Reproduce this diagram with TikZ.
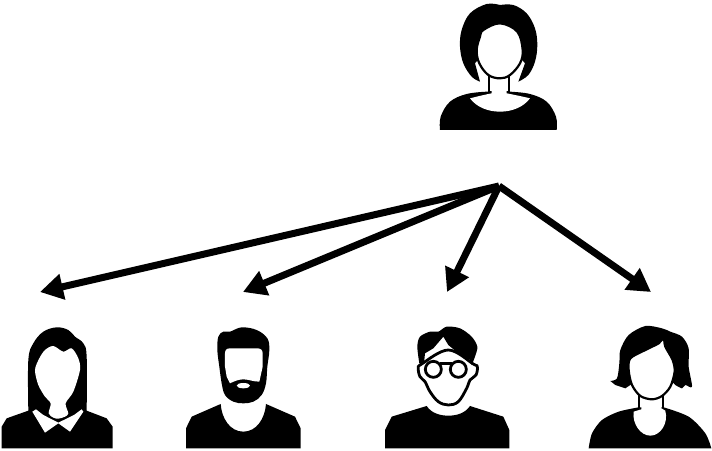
\documentclass[tikz,border=0pt]{standalone}
\usepackage{tikz}
\usetikzlibrary{arrows.meta}
\tikzset{
    dark/.style={fill=black,draw=none},
    skin/.style={fill=white,draw=none},
    face/.style={fill=white,draw=black,line width=2.2pt},
    lens/.style={fill=white,draw=black,line width=2.8pt},
    link/.style={line width=7pt,-{Triangle[length=23pt,width=25pt]}},
    icon/.style={x=0.3333pt,y=-0.3333pt}
}
\begin{document}
\begin{tikzpicture}[x=1pt,y=-1pt]
\useasboundingbox (0,0) rectangle (712,450);
% Top person
\begin{scope}[shift={(430,0)},icon]
\fill[dark] plot[smooth,tension=0.6] coordinates{(210,15)(170,12)(120,40)(95,90)(90,140)(100,190)(125,230)(150,245)} -- (135,190) -- (210,100) -- (285,190) -- (265,245) -- plot[smooth,tension=0.6] coordinates{(265,245)(295,225)(315,185)(322,135)(315,85)(290,40)(250,15)(210,15)};
\fill[dark] plot[smooth,tension=0.6] coordinates{(30,390)(32,350)(60,305)(110,282)(170,275)} -- (240,275) -- plot[smooth,tension=0.6] coordinates{(240,275)(300,282)(350,305)(378,350)(380,390)} -- cycle;
\draw[face] (176,225) -- (176,276) -- (236,276) -- (236,225);
\fill[skin] (185,225) -- (185,280) .. controls (160,285) and (140,290) .. (120,295) .. controls (140,322) and (175,335) .. (210,335) .. controls (245,335) and (280,322) .. (300,295) .. controls (280,290) and (255,285) .. (230,280) -- (230,225) -- cycle;
\draw[face] plot[smooth cycle,tension=0.6] coordinates{(160,90)(210,70)(262,95)(278,150)(270,190)(240,225)(210,235)(175,225)(148,190)(140,150)(150,110)};
\end{scope}
% Bottom left person
\begin{scope}[shift={(0,320)},icon]
\fill[dark] plot[smooth,tension=0.6] coordinates{(85,272)(85,120)(100,70)(130,35)(170,22)(205,30)(225,50)(250,70)(260,110)(260,272)} -- (320,295) -- (338,320) -- (338,385) -- (5,385) -- (5,320) -- (20,295) -- cycle;
\fill[skin] plot[smooth cycle,tension=0.5] coordinates{(118,115)(105,150)(115,195)(135,230)(152,250)(146,280)(160,293)(175,296)(195,290)(205,280)(197,250)(220,215)(240,150)(235,115)(215,85)(190,95)(160,78)(135,90)};
\fill[skin] (97,275) -- (108,268) -- (130,285) -- (175,308) -- (222,285) -- (245,268) -- (250,275) -- (210,335) -- (175,310) -- (135,338) -- cycle;
\end{scope}
% Bearded person
\begin{scope}[shift={(180,320)},icon]
\fill[dark] plot[smooth cycle,tension=0.6] coordinates{(150,35)(185,22)(230,30)(262,55)(268,90)(262,140)(258,190)(245,225)(220,245)(190,250)(160,245)(135,225)(125,190)(118,140)(112,90)(115,50)(130,35)};
\fill[skin] (135,100) .. controls (135,90) and (140,85) .. (150,85) -- (232,85) .. controls (242,85) and (248,90) .. (248,100) -- (248,140) -- (238,185) .. controls (220,185) and (205,178) .. (190,178) .. controls (175,178) and (160,185) .. (150,190) -- (140,170) -- (135,140) -- cycle;
\fill[skin] (190,197) ellipse (20 and 8);
\fill[dark] (18,385) -- (18,325) -- (35,290) -- (122,252) .. controls (125,295) and (150,335) .. (190,335) .. controls (230,335) and (255,295) .. (258,252) -- (345,290) -- (362,325) -- (362,385) -- cycle;
\end{scope}
% Person with glasses
\begin{scope}[shift={(380,320)},icon]
\fill[dark] (15,385) -- (15,330) -- (35,290) -- (140,258) .. controls (155,280) and (180,287) .. (205,287) .. controls (230,287) and (255,280) .. (270,258) -- (370,290) -- (388,330) -- (388,385) -- cycle;
\draw[lens] plot[smooth cycle,tension=0.6] coordinates{(125,132)(115,145)(120,170)(135,185)(150,215)(175,245)(205,255)(235,245)(260,205)(270,180)(288,165)(292,140)(280,132)(205,90)};
\fill[dark] plot[smooth,tension=0.5] coordinates{(118,130)(112,80)(120,50)(150,35)(175,35)(200,20)(240,25)(275,50)(292,80)(285,110)(275,135)} -- (270,120) -- (235,100) -- (205,75) -- (190,50) -- (160,85) -- (135,100) -- (132,130) -- cycle;
\draw[lens] (160,148) circle (24) (235,148) circle (24);
\draw[line width=3pt] (180,130) -- (215,130);
\end{scope}
% Bottom right person
\begin{scope}[shift={(582,320)},icon]
\fill[dark] plot[smooth,tension=0.5] coordinates{(85,183)(105,175)(112,130)(115,90)(140,45)(190,18)(240,25)(265,35)(300,50)(320,85)(320,140)(330,200)(310,195)(300,205)(280,195)} -- (210,120) -- (145,195) -- (130,205) -- (100,195) -- cycle;
\fill[dark] plot[smooth,tension=0.5] coordinates{(20,385)(30,340)(60,300)(110,275)(170,262)} -- (245,262) -- plot[smooth,tension=0.5] coordinates{(245,262)(320,290)(370,340)(388,385)} -- cycle;
\draw[face] (172,225) -- (172,265) (243,225) -- (243,265);
\fill[skin] (178,225) -- (178,268) -- (155,275) .. controls (150,310) and (175,347) .. (205,347) .. controls (235,347) and (260,310) .. (250,272) -- (238,265) -- (238,225) -- cycle;
\draw[face] plot[smooth cycle,tension=0.5] coordinates{(145,115)(190,90)(230,70)(245,55)(250,80)(272,120)(278,155)(265,200)(240,228)(210,238)(175,228)(150,195)(140,150)};
\end{scope}
% Arrows
\coordinate (hub) at (499,186);
\coordinate (tipa) at (40,292);
\coordinate (tipb) at (243,292);
\coordinate (tipc) at (447,292);
\coordinate (tipd) at (651,292);
\draw[link] (hub) -- (tipa);
\draw[link] (hub) -- (tipb);
\draw[link] (hub) -- (tipc);
\draw[link] (hub) -- (tipd);
\end{tikzpicture}
\end{document}
